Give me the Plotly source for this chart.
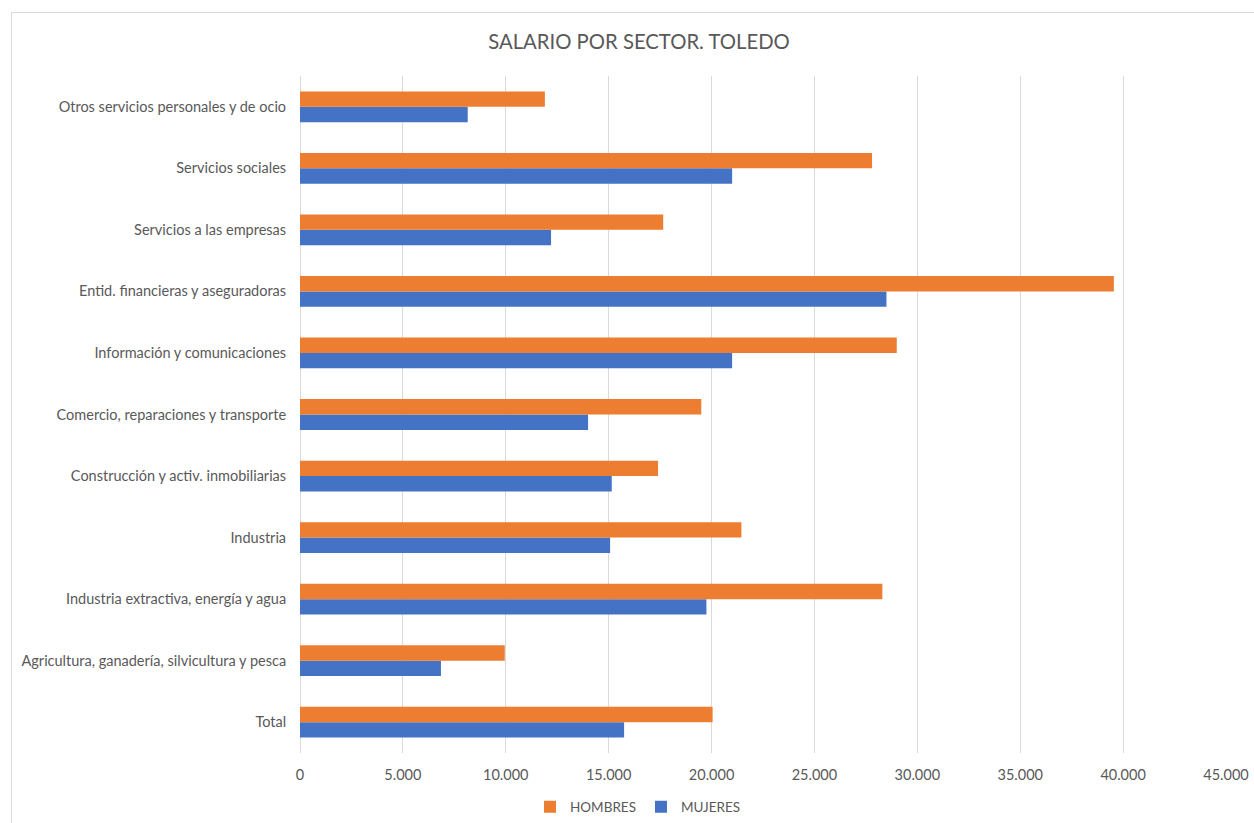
import plotly.graph_objects as go

# Sector categories, bottom to top
sectores = [
    "Total",
    "Agricultura, ganadería, silvicultura y pesca",
    "Industria extractiva, energía y agua",
    "Industria",
    "Construcción y activ. inmobiliarias",
    "Comercio, reparaciones y transporte",
    "Información y comunicaciones",
    "Entid. financieras y aseguradoras",
    "Servicios a las empresas",
    "Servicios sociales",
    "Otros servicios personales y de ocio",
]

# Average annual salary (EUR)
hombres = [20050, 9950, 28300, 21450, 17400, 19500, 29000, 39550, 17650, 27800, 11900]
mujeres = [15750, 6850, 19750, 15070, 15150, 14000, 21000, 28500, 12200, 21000, 8150]

x_ticks = list(range(0, 45001, 5000))

FONT = "Lato"
GREY = "#595959"

fig = go.Figure()
fig.add_trace(go.Bar(
    y=sectores, x=mujeres, orientation="h", name="MUJERES",
    marker=dict(color="#4472C4", line=dict(width=0)), legendrank=2,
))
fig.add_trace(go.Bar(
    y=sectores, x=hombres, orientation="h", name="HOMBRES",
    marker=dict(color="#ED7D31", line=dict(width=0)), legendrank=1,
))

fig.update_layout(
    width=1254, height=823,
    margin=dict(l=300, r=28, t=76, b=70, autoexpand=False),
    paper_bgcolor="white", plot_bgcolor="white",
    barmode="group", bargap=0.5, bargroupgap=0,
    separators=",.",
    font=dict(family=FONT, size=14.5, color=GREY),
    title=dict(
        text="SALARIO POR SECTOR. TOLEDO",
        x=639 / 1254, xanchor="center", xref="container",
        y=1 - 42 / 823, yanchor="middle", yref="container",
        font=dict(family=FONT, size=20.3, color=GREY),
    ),
    xaxis=dict(
        range=[0, 45000], tickvals=x_ticks, tickformat=",d",
        showgrid=True, gridcolor="#d9d9d9", gridwidth=1,
        zeroline=True, zerolinecolor="#d9d9d9", zerolinewidth=1,
        showline=False, ticks="outside", ticklen=9, tickcolor="rgba(0,0,0,0)",
        tickfont=dict(family=FONT, size=14.5, color=GREY),
        fixedrange=True,
    ),
    yaxis=dict(
        categoryorder="array", categoryarray=sectores,
        showgrid=False, zeroline=False, showline=False,
        ticks="outside", ticklen=10, tickcolor="rgba(0,0,0,0)",
        tickfont=dict(family=FONT, size=14.5, color=GREY),
        fixedrange=True,
    ),
    legend=dict(
        orientation="h", x=(638 - 300) / 926, xanchor="center",
        y=(753 - 807) / 677, yanchor="middle",
        font=dict(family=FONT, size=13.5, color=GREY),
        itemwidth=30, traceorder="normal",
    ),
    shapes=[dict(
        type="rect", xref="paper", yref="paper",
        x0=(11.5 - 300) / 926, x1=(1270 - 300) / 926,
        y0=(753 - 840) / 677, y1=(753 - 12.5) / 677,
        line=dict(color="#d9d9d9", width=1), fillcolor="rgba(0,0,0,0)",
        layer="below",
    )],
)

fig.write_html("out.html")
